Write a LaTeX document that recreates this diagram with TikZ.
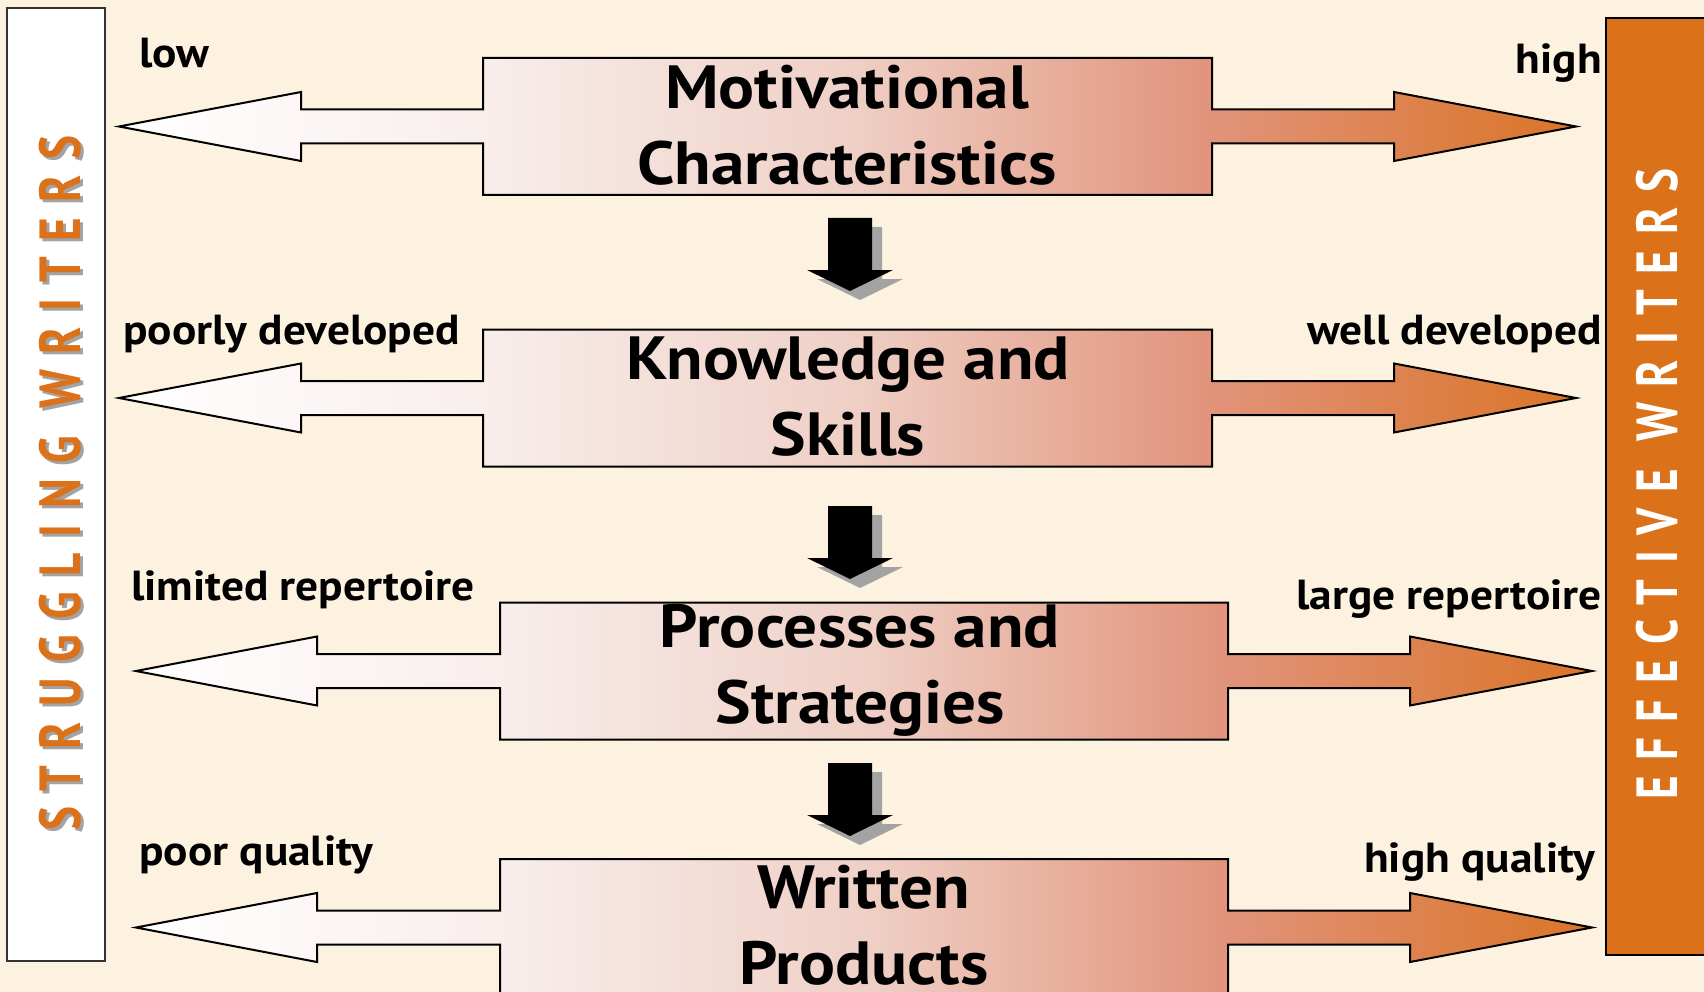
\documentclass[tikz,border=0pt]{standalone}
\usepackage{fontspec}
\setmainfont{PT Sans}
\newfontfamily\bandfont{PT Sans}[FakeStretch=0.78,LetterSpace=27]
\newfontfamily\headfont{PT Sans}[FakeStretch=1.1]
\newfontfamily\labelfont{PT Sans}[FakeStretch=1.08]
\usetikzlibrary{calc}

\definecolor{paper}{HTML}{FCF2DF}
\definecolor{accent}{HTML}{DB7119}
\definecolor{gA}{HTML}{F8EEEC}
\definecolor{gB}{HTML}{EFD0C6}
\definecolor{gC}{HTML}{E1937A}
\definecolor{gD}{HTML}{DA7427}
\definecolor{dropgray}{HTML}{A3A3A3}

% white on the left, through pale pink, to orange on the right
\pgfdeclarehorizontalshading{rowshade}{100bp}{color(0bp)=(white); color(25bp)=(white);
  color(37.5bp)=(gA); color(50bp)=(gB); color(62.5bp)=(gC); color(75bp)=(gD); color(100bp)=(gD)}

% double-headed band: #1 centre y, #2 left tip, #3 left head base, #4 box left,
% #5 box right, #6 right head base, #7 right tip
\newcommand\bandshape[7]{%
  \shade[shading=rowshade, draw=black, line width=2pt, line join=miter]
    (#2,#1) -- (#3,#1-34.5) -- (#3,#1-17) -- (#4,#1-17) -- (#4,#1-68.5) -- (#5,#1-68.5)
    -- (#5,#1-17) -- (#6,#1-17) -- (#6,#1-34.5) -- (#7,#1) -- (#6,#1+34.5) -- (#6,#1+17)
    -- (#5,#1+17) -- (#5,#1+68.5) -- (#4,#1+68.5) -- (#4,#1+17) -- (#3,#1+17)
    -- (#3,#1+34.5) -- cycle;}

% block arrow pointing down, with a grey drop shadow
\newcommand\flowarrow[2]{%
  \foreach \dx/\dy/\col in {10/9/dropgray, 0/0/black}{
    \fill[\col] ($(#1,#2)+(\dx,\dy)+(-22,0)$) -- ++(44,0) -- ++(0,52) -- ++(21,0)
      -- ++(-43,21) -- ++(-43,-21) -- ++(21,0) -- cycle;}}

\tikzset{
  title/.style={font=\fontsize{61}{76}\selectfont\headfont\bfseries, align=center, inner sep=0pt},
  lbl/.style={font=\fontsize{42}{50}\selectfont\labelfont\bfseries, inner sep=0pt},
  bandtext/.style={rotate=90, font=\fontsize{58}{58}\selectfont\bandfont\bfseries, inner sep=0pt},
}

\begin{document}
\begin{tikzpicture}[x=1pt, y=-1pt]
  \useasboundingbox (0,0) rectangle (1704,992);
  \clip (0,0) rectangle (1704,992);
  \fill[paper] (0,0) rectangle (1704,992);

  % side panels
  \draw[fill=white, draw=black!80, line width=2pt] (7,8) rectangle (105,961);
  \draw[fill=accent, draw=black, line width=2pt] (1606,18) rectangle (1712,955);

  \node[bandtext, text=dropgray] at (63,486) {STRUGGLING WRITERS};
  \node[bandtext, text=accent] (struggling) at (60,483) {STRUGGLING WRITERS};
  \node[bandtext, text=white] (effective) at (1657,484) {EFFECTIVE WRITERS};

  % the four bands
  \bandshape{126.5}{119}{301}{483}{1212}{1394}{1576}
  \bandshape{398}{119}{301}{483}{1212}{1394}{1576}
  \bandshape{671}{136}{317}{500}{1228}{1410}{1592}
  \bandshape{927.5}{136}{317}{500}{1228}{1410}{1592}

  \node[title] (motiv) at (847,125) {Motivational\\Characteristics};
  \node[title] (know) at (848,397) {Knowledge and\\Skills};
  \node[title] (proc) at (860,670) {Processes and\\Strategies};
  \node[title] (prod) at (864,925) {Written\\Products};

  % downward flow between the bands
  \flowarrow{850}{218}
  \flowarrow{850}{506}
  \flowarrow{850}{763}

  % end-point labels
  \node[lbl, anchor=base west] (lowlbl) at (139,68) {low};
  \node[lbl, anchor=base east] (highlbl) at (1602,74) {high};
  \node[lbl, anchor=base west] (poorlbl) at (123,344) {poorly developed};
  \node[lbl, anchor=base east] (welllbl) at (1602,344) {well developed};
  \node[lbl, anchor=base west] (limlbl) at (131,600) {limited repertoire};
  \node[lbl, anchor=base east] (largelbl) at (1602,609) {large repertoire};
  \node[lbl, anchor=base west] (pqlbl) at (139,865) {poor quality};
  \node[lbl, anchor=base east] (hqlbl) at (1595,872) {high quality};
\end{tikzpicture}
\end{document}
